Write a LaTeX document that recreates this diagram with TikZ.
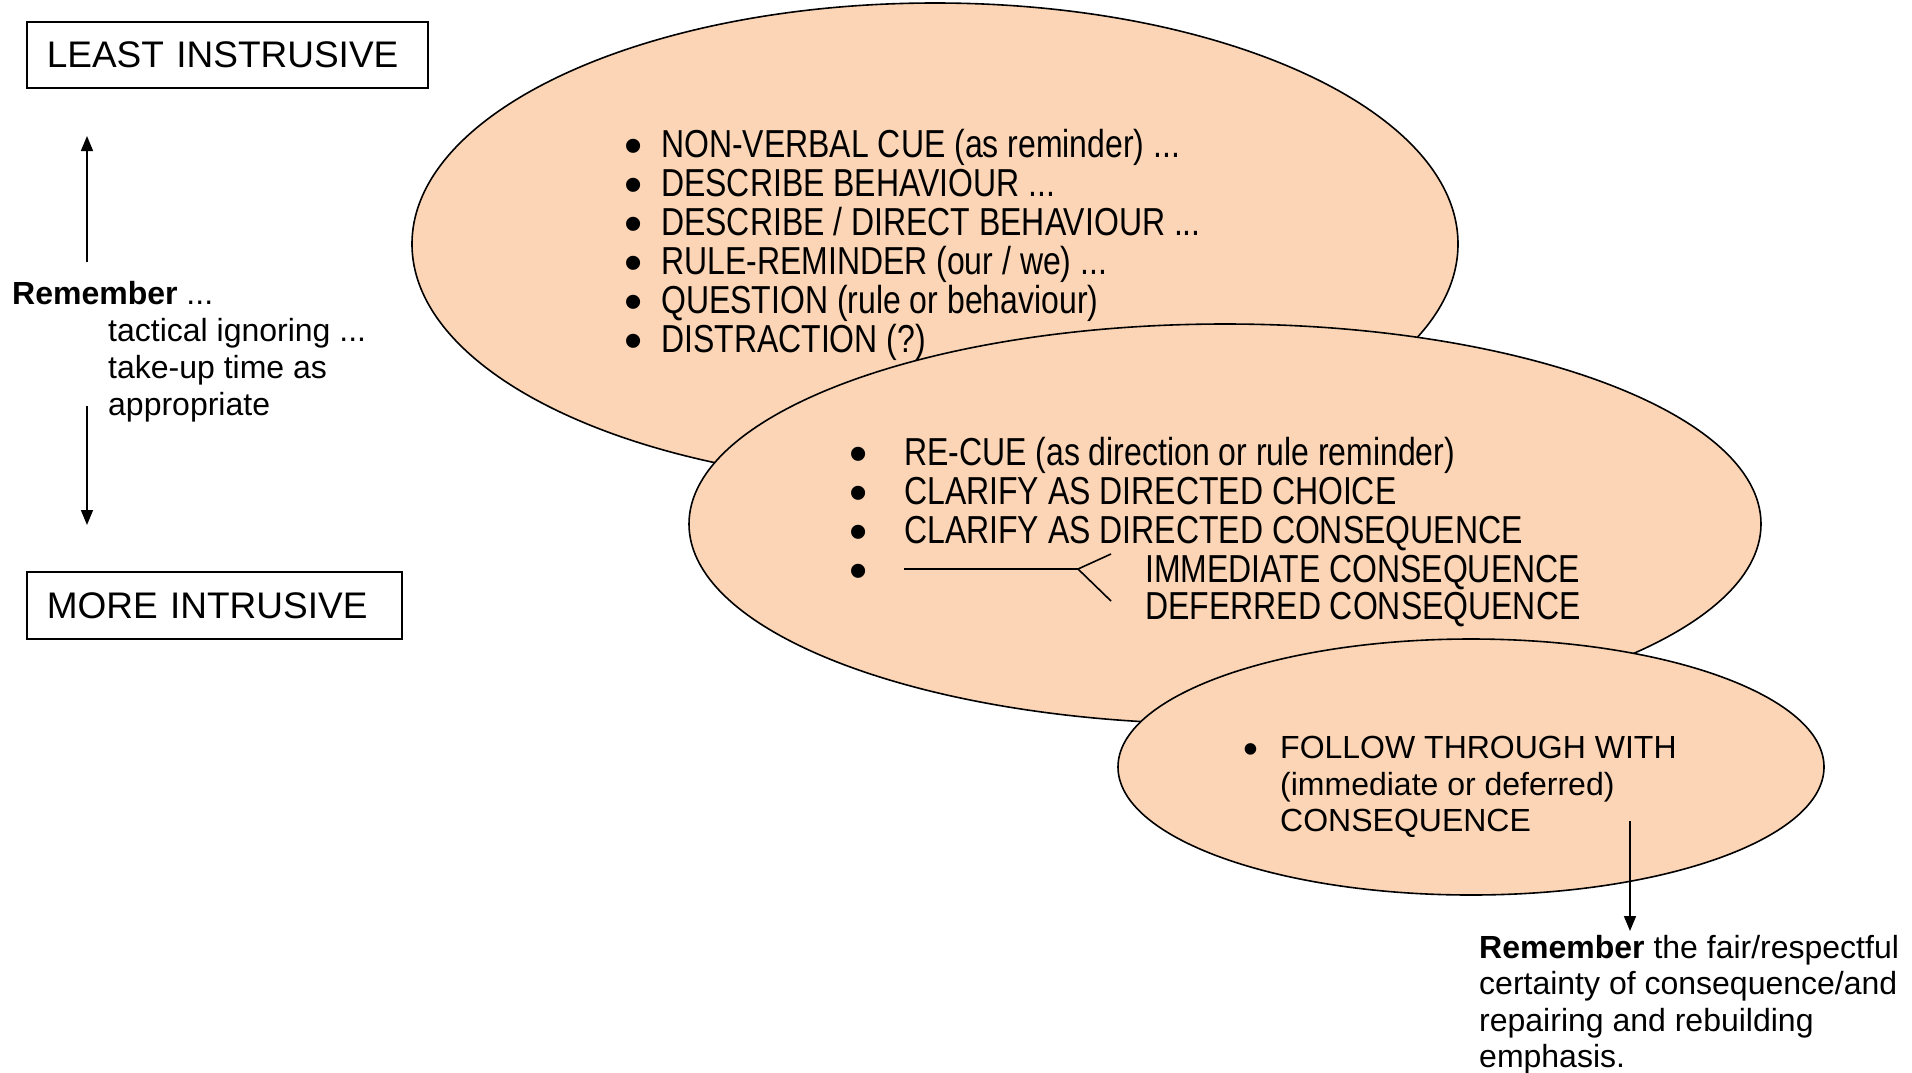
\documentclass[tikz,border=0pt]{standalone}
\usepackage{fontspec}
\setmainfont{Liberation Sans}
\newfontfamily\narrowfont{Liberation Sans}[FakeStretch=0.82]
\usetikzlibrary{shapes.geometric,arrows.meta}
\definecolor{peach}{RGB}{251,213,181}
\newcommand{\dotitem}[1]{\makebox[#1][l]{\smash{\raisebox{-0.17em}{\scalebox{1.33}{\rmfamily\textbullet}}}}}

\begin{document}
\begin{tikzpicture}[x=1pt,y=-1pt]
            \tikzstyle{scalebox} = [draw, line width=1.6pt, anchor=north west, inner xsep=20pt, inner ysep=0pt, align=left, font=\fontsize{37pt}{40pt}\selectfont]
            \tikzstyle{blob} = [ellipse, draw, fill=peach, line width=1.6pt, inner sep=0pt]
            \tikzstyle{narrowline} = [anchor=base west, inner sep=0pt, font=\narrowfont\fontsize{39pt}{39pt}\selectfont]
            \tikzstyle{plainline} = [anchor=base west, inner sep=0pt, font=\fontsize{32pt}{36.6pt}\selectfont]
            \tikzstyle{pointer} = [line width=1.6pt, -{Triangle[length=15pt,width=12pt]}]

            \useasboundingbox (0,0) rectangle (1912,1072);

            \node [scalebox, text width=361pt, minimum height=66pt] (least) at (26,21) {LEAST INSTRUSIVE};
            \node [scalebox, text width=335pt, minimum height=67pt] (more) at (26,571) {MORE INTRUSIVE};

            \coordinate (upfrom) at (87,262);
            \coordinate (upto) at (87,136);
            \coordinate (downfrom) at (87,406);
            \coordinate (downto) at (87,525);
            \draw [pointer] (upfrom) -- (upto);
            \draw [pointer] (downfrom) -- (downto);

            \node [plainline] (remember) at (12,304) {\textbf{Remember} ...};
            \node [plainline] (ignoring) at (108,341) {tactical ignoring ...};
            \node [plainline] (takeup) at (108,378) {take-up time as};
            \node [plainline] (appropriate) at (108,415) {appropriate};

            \node [blob, minimum width=1046pt, minimum height=482pt] (first) at (935,244) {};
            \node [narrowline] (cue) at (624,157) {\dotitem{37pt}NON-VERBAL CUE (as reminder) ...};
            \node [narrowline] (describe) at (624,196) {\dotitem{37pt}DESCRIBE BEHAVIOUR ...};
            \node [narrowline] (direct) at (624,235) {\dotitem{37pt}DESCRIBE / DIRECT BEHAVIOUR ...};
            \node [narrowline] (rule) at (624,274) {\dotitem{37pt}RULE-REMINDER (our / we) ...};
            \node [narrowline] (question) at (624,313) {\dotitem{37pt}QUESTION (rule or behaviour)};
            \node [narrowline] (distract) at (624,352) {\dotitem{37pt}DISTRACTION (?)};

            \node [blob, minimum width=1072pt, minimum height=400pt] (second) at (1225,524) {};
            \node [narrowline] (recue) at (849,465) {\dotitem{55pt}RE-CUE (as direction or rule reminder)};
            \node [narrowline] (choice) at (849,504) {\dotitem{55pt}CLARIFY AS DIRECTED CHOICE};
            \node [narrowline] (consequence) at (849,543) {\dotitem{55pt}CLARIFY AS DIRECTED CONSEQUENCE};
            \node [narrowline] (fork) at (849,582) {\dotitem{55pt}};
            \node [narrowline] (immediate) at (1145,582) {IMMEDIATE CONSEQUENCE};
            \node [narrowline] (deferred) at (1145,619) {DEFERRED CONSEQUENCE};
            \coordinate (stem) at (904,569);
            \coordinate (split) at (1078,569);
            \coordinate (splitup) at (1111,554);
            \coordinate (splitdown) at (1111,601);
            \draw [line width=1.6pt] (stem) -- (split) -- (splitup);
            \draw [line width=1.6pt] (split) -- (splitdown);

            \node [blob, minimum width=706pt, minimum height=256pt] (third) at (1471,767) {};
            \node [plainline] (follow) at (1243,758) {\dotitem{37pt}FOLLOW THROUGH WITH};
            \node [plainline] (either) at (1280,795) {(immediate or deferred)};
            \node [plainline] (final) at (1280,831) {CONSEQUENCE};

            \coordinate (outfrom) at (1630,821);
            \coordinate (outto) at (1630,931);
            \draw [pointer] (outfrom) -- (outto);

            \node [plainline] (fair) at (1479,958) {\textbf{Remember} the fair/respectful};
            \node [plainline] (certainty) at (1479,994.6) {certainty of consequence/and};
            \node [plainline] (repairing) at (1479,1031.2) {repairing and rebuilding};
            \node [plainline] (emphasis) at (1479,1067.8) {emphasis.};
        \end{tikzpicture}
\end{document}
